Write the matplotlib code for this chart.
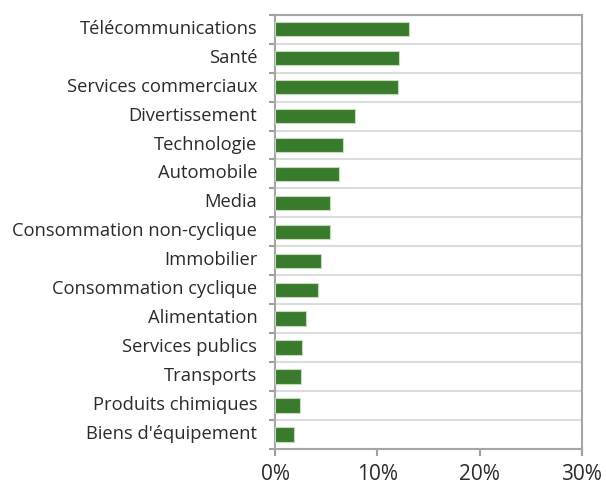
import numpy as np
import matplotlib.pyplot as plt
import matplotlib.transforms as mtransforms
from matplotlib.ticker import FixedLocator, PercentFormatter

# secteurs, du haut vers le bas
secteurs = ["Télécommunications", "Santé", "Services commerciaux", "Divertissement",
            "Technologie", "Automobile", "Media", "Consommation non-cyclique",
            "Immobilier", "Consommation cyclique", "Alimentation", "Services publics",
            "Transports", "Produits chimiques", "Biens d'équipement"]
poids = [13.1, 12.1, 12.05, 7.8, 6.6, 6.2, 5.35, 5.35,
         4.45, 4.2, 3.0, 2.6, 2.55, 2.45, 1.8]
x_ticks = [0, 10, 20, 30]

plt.rcParams['font.family'] = ['Open Sans', 'DejaVu Sans']

fig = plt.figure(figsize=(6.06, 4.85), dpi=100)
ax = fig.add_axes([0.4543, 0.0722, 0.5057, 0.8954])

n = len(secteurs)
y = np.arange(n)[::-1]
ax.barh(y, poids, height=0.5, color="#3a7a2c", edgecolor="#c3dcbc", linewidth=0.8, zorder=3)

ax.set_xlim(0, 30)
ax.set_ylim(-0.5, n - 0.5)

ax.set_yticks(y)
ax.set_yticklabels(secteurs, fontsize=13.2, color="#2b2b2b")
ax.tick_params(axis="y", which="major", length=0, pad=13)
# labels a bit higher than the bar centres, as in the original
shift = mtransforms.ScaledTranslation(0, 2.5 / 72, fig.dpi_scale_trans)
for lab in ax.get_yticklabels():
    lab.set_transform(lab.get_transform() + shift)
ax.yaxis.set_minor_locator(FixedLocator(np.arange(n + 1) - 0.5))
ax.tick_params(axis="y", which="minor", length=4, width=1.5, color="#a0a0a0")
ax.grid(axis="y", which="minor", color="#dcdcdc", linewidth=1.5, zorder=0)

ax.set_xticks(x_ticks)
ax.xaxis.set_major_formatter(PercentFormatter(decimals=0))
ax.tick_params(axis="x", length=5, width=1.5, color="#a0a0a0", labelsize=15,
               labelcolor="#2b2b2b", pad=5)

for s in ax.spines.values():
    s.set_color("#a6a6a6")
    s.set_linewidth(1.5)

fig.savefig("out.png", dpi=100)
